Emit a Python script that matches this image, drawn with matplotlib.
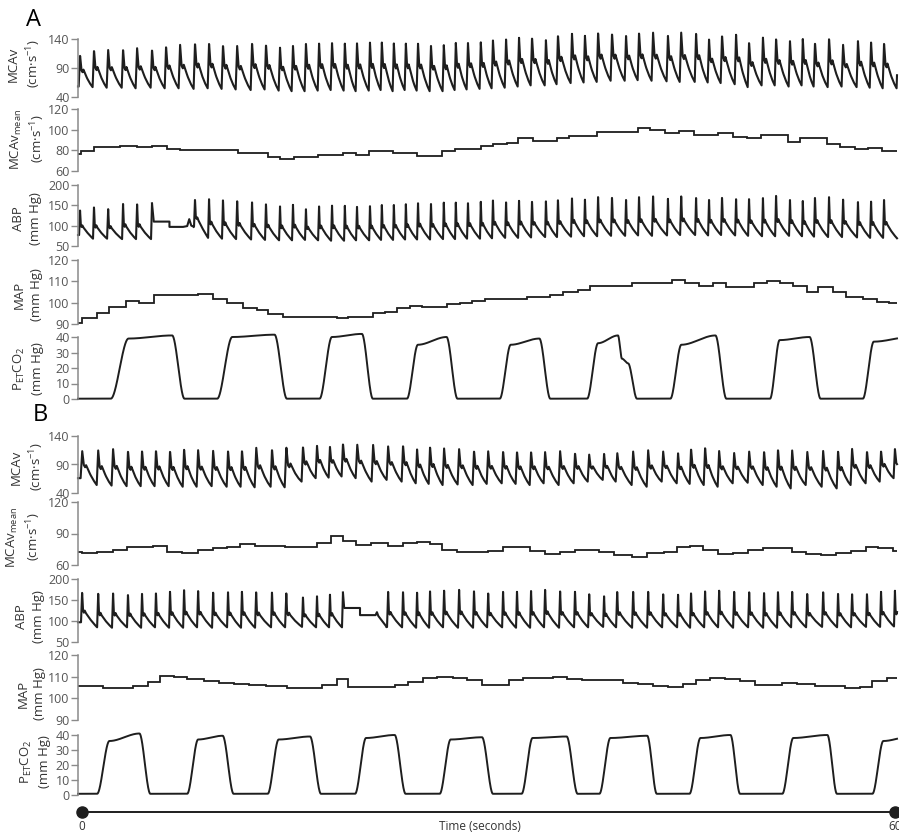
import numpy as np
import matplotlib
matplotlib.use("Agg")
import matplotlib.pyplot as plt

plt.rcParams['font.family'] = ['Open Sans', 'DejaVu Sans']
plt.rcParams['mathtext.fontset'] = 'custom'
plt.rcParams['mathtext.rm'] = 'Open Sans'
plt.rcParams['mathtext.it'] = 'Open Sans:italic'

nan = np.nan

# ---------------- panel A: beat-by-beat values (peak time in s) ----------------
beat_t_a = [0.15, 1.17, 2.2, 3.3, 4.32, 5.42, 6.45, 7.47, 8.57, 9.6, 10.62, 11.65, 12.75, 13.77, 14.8, 15.75,
            16.7, 17.66, 18.61, 19.56, 20.44, 21.4, 22.27, 23.15, 24.03, 24.91, 25.86, 26.81, 27.69, 28.57,
            29.52, 30.4, 31.36, 32.31, 33.26, 34.29, 35.16, 36.19, 37.14, 38.1,
            39.12, 40.15, 41.1, 42.12, 43.22, 44.18, 45.28, 46.23, 47.18, 48.21, 49.16, 50.18, 51.14, 52.16,
            53.11, 53.99, 55.02, 56.04, 57.14, 58.1, 59.05, 60.07]
mcav_peak_a = [112, 121, 121, 122, 124, 122, 127, 130, 133, 133, 130, 128, 133, 131, 127, 130,
               133, 134, 135, 133, 134, 135, 135, 133, 133, 134, 130, 130, 134, 135, 135, 139, 141, 144, 143, 139,
               147, 151, 147, 151,
               150, 147, 151, 151, 147, 151, 151, 141, 147, 150, 134, 144, 141, 138, 141, 134, 141, 130, 138, 136,
               133, 130]
mcav_trough_a = [58, 57, 56, 56, 55, 56, 55, 55, 54, 55, 54, 53, 52, 53, 51, 50,
                 50, 51, 52, 51, 50, 51, 52, 50, 52, 51, 50, 50, 52, 53, 54, 55, 56, 58, 60, 60, 62, 64, 65, 66,
                 68, 68, 69, 68, 67, 66, 66, 65, 64, 62, 57, 60, 60, 58, 60, 58, 57, 58, 57, 56, 55, 55]
abp_peak_a = [139, 147, 143, 155, 155, 155, nan, nan, 167, 167, 165, 163, 159, 155, 151, 155,
              143, 151, 153, 151, 149, 149, 153, 153, 155, 159, 157, 159, 159, 159, 161, 165, 161, 165, 161, 161,
              165, 171, 167, 172,
              171, 167, 172, 175, 169, 175, 172, 167, 171, 169, 167, 171, 175, 167, 163, 171, 172, 167, 161, 163,
              165, 163]
abp_trough_a = [77, 68, 68, 67, 67, 67, 67, 67, 98, 70, 68, 67, 66, 65, 64, 64,
                65, 64, 63, 63, 64, 64, 65, 65, 66, 66, 66, 67, 67, 68, 68, 69, 70, 70, 71, 72, 72, 73, 74, 74,
                75, 75, 76, 75, 76, 77, 77, 76, 77, 76, 75, 74, 74, 75, 74, 73, 72, 72, 71, 70, 70, 69]
# calibration break in the ABP trace
abp_gap_t_a = [5.42, 5.55, 6.7, 6.7, 7.7, 8.0, 8.15, 8.3, 8.47]
abp_gap_v_a = [155, 110, 110, 97, 97, 99, 116, 100, 98]

mcav_mean_edges_a = [0, 0.2, 1.2, 3.1, 4.3, 5.4, 6.5, 7.5, 11.7, 13.9, 14.8, 15.8, 17.6, 19.4, 20.4, 21.3,
                     23.1, 24.8, 26.7, 27.6, 29.5, 30.4, 31.4, 32.2, 33.3, 35.1, 36.0, 38.0, 41.0, 41.9, 43.0,
                     44.0, 45.1, 46.9, 48.0, 49.0, 50.0, 52.0, 52.9, 54.9, 55.8, 56.9, 57.9, 58.9, 60]
mcav_mean_a = [76.1, 79.3, 83.5, 84.2, 82.9, 84.2, 81.3, 80.0, 77.2, 73.9, 71.3, 73.9, 75.5, 77.2, 75.5,
               79.3, 77.2, 74.8, 79.3, 81.3, 84.2, 85.7, 87.1, 92.0, 89.2, 91.5, 93.9, 98.0, 101.2, 99.6,
               96.9, 98.9, 94.8, 96.4, 93.1, 91.5, 94.8, 88.1, 92.4, 86.5, 83.5, 81.3, 82.6, 79.3]

map_edges_a = [0, 0.3, 1.4, 2.3, 3.5, 4.5, 5.6, 8.8, 9.9, 10.9, 12.1, 13.1, 13.9, 15.0, 19.0, 19.8, 21.6,
               22.5, 23.4, 24.3, 25.2, 27.0, 28.0, 28.9, 29.8, 30.9, 32.9, 33.7, 34.6, 35.5, 36.6, 37.5, 40.6,
               42.5, 43.5, 44.5, 45.5, 46.5, 47.5, 49.5, 50.5, 51.4, 52.4, 53.4, 54.2, 55.3, 56.3, 57.5, 58.5,
               59.4, 60]
map_a = [90.5, 92.8, 95.1, 98.0, 100.8, 100.0, 103.6, 104.0, 101.7, 100.0, 97.5, 96.5, 94.6, 93.4, 92.8,
         93.3, 95.0, 95.6, 97.5, 98.4, 98.0, 99.4, 100.0, 100.8, 101.7, 101.5, 102.6, 102.8, 103.6, 105.0,
         106.0, 108.0, 109.1, 109.0, 110.5, 109.3, 107.8, 109.1, 107.3, 109.4, 110.2, 109.2, 107.8, 105.0,
         107.3, 105.0, 102.6, 101.5, 100.4, 99.7]

# end-tidal CO2 breaths: rise start/end, fall start/end, level at plateau start/end
co2_rise_s_a = [2.4, 10.2, 17.7, 24.1, 30.9, 37.3, 43.4, 50.7, 57.5]
co2_rise_e_a = [3.7, 11.3, 18.6, 24.9, 31.7, 38.1, 44.2, 51.4, 58.3]
co2_fall_s_a = [6.9, 14.4, 20.8, 27.0, 33.8, 39.56, 46.7, 53.6, 61.0]
co2_fall_e_a = [7.8, 15.3, 21.6, 27.8, 34.6, 40.95, 47.5, 54.4, 62.0]
co2_lo_a = [39, 40, 40, 35, 35, 36, 35, 38, 37]
co2_hi_a = [41, 41.5, 42, 40, 39, 41, 41, 40, 40]
co2_kink_t_a = [39.85, 40.3]
co2_kink_v_a = [26, 23]
co2_base_a = 0.2

# ---------------- panel B ----------------
beat_t_b = [0.29, 1.47, 2.56, 3.66, 4.69, 5.71, 6.74, 7.77, 8.79, 9.89, 10.99, 12.01, 13.04, 14.21, 15.24,
            16.48, 17.51, 18.46, 19.41, 20.44, 21.61, 22.71, 23.81, 24.84, 25.79, 26.81, 27.91, 29.01, 30.04,
            31.14, 32.16, 33.19, 34.21, 35.31, 36.41, 37.44,
            38.54, 39.49, 40.66, 41.76, 42.86, 43.96, 44.91, 45.94, 46.96, 48.06, 49.16, 50.26, 51.28, 52.31,
            53.41, 54.58, 55.68, 56.7, 57.8, 58.83, 59.85]
mcav_peak_b = [115, 115, 117, 114, 114, 115, 114, 117, 115, 114, 114, 115, 120, 117, 120,
               121, 124, 122, 127, 126, 124, 122, 124, 118, 121, 118, 117, 114, 113, 113, 113, 112, 112, 113, 110,
               107,
               110, 111, 113, 114, 113, 111, 118, 120, 113, 110, 113, 113, 117, 114, 113, 114, 113, 117, 113, 113,
               117]
mcav_trough_b = [66, 54, 53, 52, 52, 52, 52, 51, 51, 52, 51, 51, 50, 51, 50,
                 60, 66, 67, 69, 66, 60, 63, 60, 57, 56, 54, 55, 54, 56, 57, 56, 54, 57, 54, 57, 60,
                 63, 60, 54, 51, 60, 57, 56, 54, 51, 57, 58, 54, 51, 48, 54, 51, 48, 54, 57, 60, 66]
abp_peak_b = [170, 168, 168, 164, 166, 168, 172, 175, 174, 170, 170, 172, 170, 170, 168,
              158, 162, 166, 168, nan, nan, 172, 171, 171, 172, 175, 177, 173, 168, 171, 172, 173, 177, 173, 172,
              166,
              162, 171, 172, 172, 166, 166, 168, 172, 175, 172, 171, 168, 171, 172, 166, 171, 166, 166, 166, 171,
              172]
abp_trough_b = [97, 85, 84, 85, 84, 85, 84, 84, 85, 84, 85, 84, 84, 85, 85,
                86, 85, 85, 85, 85, 85, 86, 85, 84, 84, 85, 84, 84, 85, 85, 84, 84, 85, 84, 85, 85,
                86, 85, 84, 84, 85, 85, 84, 85, 85, 84, 85, 84, 84, 85, 85, 86, 85, 85, 86, 86, 87]
abp_gap_t_b = [19.41, 19.5, 20.66, 20.66, 21.8, 21.9, 22.0, 22.61]
abp_gap_v_b = [168, 131, 131, 114, 114, 121, 112, 86]

mcav_mean_edges_b = [0, 0.3, 1.4, 2.6, 3.6, 5.5, 6.5, 7.6, 8.8, 9.9, 10.9, 11.9, 13.0, 15.2, 17.5, 18.5, 19.4,
                     20.4, 21.5, 22.7, 23.8, 24.8, 25.8, 26.7, 27.8, 30.0, 31.1, 33.1, 34.2, 35.3, 36.4, 38.2,
                     39.3, 40.6, 41.7, 42.9, 43.9, 44.8, 45.8, 46.9, 48.0, 49.1, 50.2, 51.2, 52.3, 53.3, 54.4,
                     55.5, 56.6, 57.7, 58.6, 59.7, 60]
mcav_mean_b = [72.6, 71.1, 72.6, 74.6, 76.9, 78.4, 72.6, 71.4, 74.3, 75.9, 76.9, 79.9, 78.4, 77.5, 81.2,
               87.6, 83.1, 79.0, 80.6, 78.4, 81.2, 81.9, 80.0, 74.3, 72.7, 73.3, 77.5, 73.7, 70.5, 72.4, 74.3,
               72.7, 69.5, 67.3, 71.1, 72.7, 77.5, 78.1, 74.3, 70.5, 71.7, 74.3, 75.9, 76.5, 72.7, 70.2, 69.5,
               71.7, 73.3, 77.5, 75.9, 73.3]

map_edges_b = [0, 1.8, 2.9, 4.0, 5.1, 6.0, 7.0, 8.0, 9.2, 10.3, 11.4, 12.5, 13.8, 15.3, 17.9, 19.0, 19.8,
               23.2, 24.2, 25.3, 26.3, 27.5, 28.5, 29.6, 31.6, 32.6, 34.8, 35.8, 36.9, 39.9, 41.0, 42.1, 43.2,
               44.3, 45.3, 46.3, 47.4, 48.5, 49.6, 51.6, 52.7, 54.0, 56.2, 57.3, 58.2, 59.3, 60]
map_b = [105.7, 104.9, 104.6, 105.9, 107.7, 110.3, 110.0, 108.8, 108.0, 107.0, 106.5, 106.2, 105.9, 104.9,
         106.2, 108.9, 105.4, 106.2, 107.7, 109.3, 109.7, 109.3, 108.5, 106.2, 108.5, 109.6, 110.0, 108.9,
         108.3, 107.3, 106.6, 105.9, 105.2, 106.6, 108.5, 109.3, 108.9, 108.0, 106.2, 107.0, 106.6, 105.9,
         104.9, 105.4, 108.2, 109.6]

co2_rise_s_b = [1.4, 8.0, 13.9, 20.3, 26.5, 32.5, 38.2, 44.8, 51.6, 58.2]
co2_rise_e_b = [2.3, 8.8, 14.7, 21.1, 27.3, 33.3, 39.0, 45.6, 52.4, 59.0]
co2_fall_s_b = [4.5, 10.6, 17.0, 23.2, 29.6, 35.8, 41.7, 47.8, 54.9, 61.0]
co2_fall_e_b = [5.3, 11.4, 17.8, 24.0, 30.4, 36.6, 42.4, 48.5, 55.6, 62.0]
co2_lo_b = [36, 37, 37, 38, 37, 38, 38, 38, 38, 36]
co2_hi_b = [41, 39.5, 39, 40, 38.5, 39, 39.5, 40, 40, 39]
co2_base_b = 0.8

t = np.linspace(0, 60, 6001)

# normalised beat templates (fraction of beat period, fraction of pulse height)
MCAV_U = [0, 0.1, 0.2, 0.28, 0.34, 0.42, 0.6, 0.8, 1.0]
MCAV_Y = [0, 1, 0.52, 0.46, 0.55, 0.47, 0.28, 0.12, 0]
ABP_U = [0, 0.07, 0.12, 0.18, 0.23, 0.3, 0.55, 0.8, 1.0]
ABP_Y = [0, 1, 0.42, 0.34, 0.42, 0.35, 0.2, 0.08, 0]


def pulse_wave(peak_t, peaks, troughs, shape_u, shape_y):
    onsets = np.asarray(peak_t) - shape_u[1]
    y = np.full_like(t, troughs[0], dtype=float)
    n = len(onsets)
    for i in range(n):
        t0 = onsets[i]
        t1 = onsets[i + 1] if i + 1 < n else t0 + 1.0
        lo0 = troughs[i]
        lo1 = troughs[i + 1] if i + 1 < n else troughs[i]
        m = (t >= t0) & (t < t1)
        u = (t[m] - t0) / (t1 - t0)
        amp = 0 if np.isnan(peaks[i]) else peaks[i] - lo0
        y[m] = lo0 + (lo1 - lo0) * u + amp * np.interp(u, shape_u, shape_y)
    return y


def smooth_knots(kt, kv):
    y = np.full_like(t, kv[0], dtype=float)
    for ta, tb, va, vb in zip(kt[:-1], kt[1:], kv[:-1], kv[1:]):
        if tb <= ta:
            continue
        m = (t >= ta) & (t <= tb)
        s = (t[m] - ta) / (tb - ta)
        y[m] = va + (vb - va) * s * s * (3 - 2 * s)
    y[t > kt[-1]] = kv[-1]
    return y


def co2_wave(rs, re, fs, fe, lo, hi, base, extra_t=(), extra_v=()):
    kt, kv = [0.0], [base]
    for a, b, c, d, l, h in zip(rs, re, fs, fe, lo, hi):
        kt += [a, b, c, d]
        kv += [base, l, h, base]
    kt += list(extra_t)
    kv += list(extra_v)
    order = np.argsort(kt, kind='stable')
    return smooth_knots(np.array(kt)[order], np.array(kv)[order])


TRACE = '#1e1e1e'
AXIS = '#8a8a8a'
TICKTXT = '#555555'
LABEL = '#333333'
W, H = 899, 834

fig = plt.figure(figsize=(W / 100, H / 100), dpi=100)
fig.patch.set_facecolor('white')


def add_panel(y_top, y_bot, lo, hi, ticks):
    ax = fig.add_axes([78 / W, 1 - y_bot / H, (897 - 78) / W, (y_bot - y_top) / H])
    ax.set_xlim(0, 60)
    ax.set_ylim(lo, hi)
    for s in ['top', 'right', 'bottom']:
        ax.spines[s].set_visible(False)
    ax.spines['left'].set_color(AXIS)
    ax.spines['left'].set_linewidth(1.1)
    ax.set_xticks([])
    ax.set_yticks(ticks)
    ax.tick_params(axis='y', length=5, width=1.0, color=AXIS, labelcolor=TICKTXT,
                   labelsize=9, pad=1)
    ax.patch.set_alpha(0)
    return ax


def trace(ax, x, y, lw=1.5):
    ax.plot(x, y, color=TRACE, lw=lw, clip_on=False, solid_joinstyle='round')


def ylabel(x, y, txt):
    fig.text(x / W, 1 - y / H, txt, rotation=90, ha='center', va='center',
             fontsize=9.5, color=LABEL, linespacing=1.35, multialignment='center')


lab_mcav = 'MCAv\n(cm·s$^{-1}$)'
lab_mean = 'MCAv$_{\\mathrm{mean}}$\n(cm·s$^{-1}$)'
lab_abp = 'ABP\n(mm Hg)'
lab_map = 'MAP\n(mm Hg)'
lab_co2 = 'P$_{\\mathrm{ET}}$CO$_2$\n(mm Hg)'

panels = [
    # rows of panel A then panel B
    dict(beat=beat_t_a, mp=mcav_peak_a, mt=mcav_trough_a, ap=abp_peak_a, at=abp_trough_a,
         gt=abp_gap_t_a, gv=abp_gap_v_a, me=mcav_mean_edges_a, mv=mcav_mean_a,
         pe=map_edges_a, pv=map_a,
         co2=(co2_rise_s_a, co2_rise_e_a, co2_fall_s_a, co2_fall_e_a, co2_lo_a, co2_hi_a, co2_base_a,
              co2_kink_t_a, co2_kink_v_a),
         rows=[(39, 97), (109, 171), (185, 246), (260, 324), (337, 399)],
         mean_ticks=[60, 80, 100, 120],
         labels=[(25, 64), (28, 139), (27, 219), (28, 295), (28, 369)],
         letter=('A', 34, 20)),
    dict(beat=beat_t_b, mp=mcav_peak_b, mt=mcav_trough_b, ap=abp_peak_b, at=abp_trough_b,
         gt=abp_gap_t_b, gv=abp_gap_v_b, me=mcav_mean_edges_b, mv=mcav_mean_b,
         pe=map_edges_b, pv=map_b,
         co2=(co2_rise_s_b, co2_rise_e_b, co2_fall_s_b, co2_fall_e_b, co2_lo_b, co2_hi_b, co2_base_b,
              (), ()),
         rows=[(436, 493), (502, 565), (579, 642), (655, 720), (735, 795)],
         mean_ticks=[60, 90, 120],
         labels=[(28, 467), (24, 537), (30, 617), (31, 694), (35, 762)],
         letter=('B', 40, 415)),
]

for p in panels:
    r = p['rows']
    # MCAv
    ax = add_panel(*r[0], 40, 140, [40, 90, 140])
    trace(ax, t, pulse_wave(p['beat'], p['mp'], p['mt'], MCAV_U, MCAV_Y))
    # MCAv mean
    ax = add_panel(*r[1], p['mean_ticks'][0], p['mean_ticks'][-1], p['mean_ticks'])
    ax.stairs(p['mv'], p['me'], baseline=None, color=TRACE, lw=1.3)
    # ABP with calibration gap
    ax = add_panel(*r[2], 50, 200, [50, 100, 150, 200])
    abp = pulse_wave(p['beat'], p['ap'], p['at'], ABP_U, ABP_Y)
    abp[(t > p['gt'][0]) & (t < p['gt'][-1])] = np.nan
    trace(ax, t, abp)
    trace(ax, p['gt'], p['gv'])
    # MAP
    ax = add_panel(*r[3], 90, 120, [90, 100, 110, 120])
    ax.stairs(p['pv'], p['pe'], baseline=None, color=TRACE, lw=1.3)
    # PETCO2
    ax = add_panel(*r[4], 0, 40, [0, 10, 20, 30, 40])
    trace(ax, t, co2_wave(*p['co2']), lw=1.4)

    for (lx, ly), txt in zip(p['labels'], [lab_mcav, lab_mean, lab_abp, lab_map, lab_co2]):
        ylabel(lx, ly, txt)
    letter, lx, ly = p['letter']
    fig.text(lx / W, 1 - ly / H, letter, fontsize=17, ha='center', va='center', color='black')

# time scale bar
ax_t = fig.add_axes([82 / W, 1 - 822 / H, (895 - 82) / W, 20 / H])
ax_t.set_xlim(0, 60)
ax_t.set_ylim(-1, 1)
ax_t.axis('off')
ax_t.plot([0, 60], [0, 0], color=TRACE, lw=1.4, marker='o', ms=8, clip_on=False)
for xv, txt in [(0, '0'), (29.4, 'Time (seconds)'), (60, '60')]:
    ax_t.annotate(txt, xy=(xv, 0), xytext=(0, -10.5), textcoords='offset points',
                  ha='center', va='center', fontsize=8.5, color=LABEL, annotation_clip=False)

fig.savefig('out.png', dpi=100)
